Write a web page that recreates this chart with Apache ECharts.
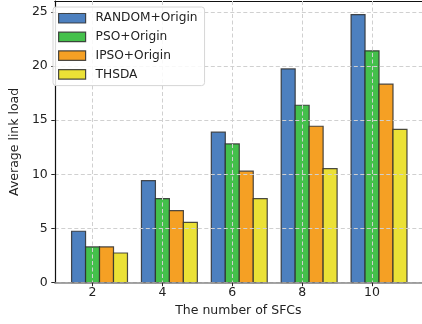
<!DOCTYPE html>
<html><head><meta charset="utf-8">
<script src="https://cdn.jsdelivr.net/npm/echarts@6/dist/echarts.min.js"></script>
<style>html,body{margin:0;padding:0;background:#fff}#c{width:422px;height:324px}</style>
</head><body><div id="c"></div>
<script>
var sfcs = [2, 4, 6, 8, 10];
var seriesNames = ['RANDOM+Origin', 'PSO+Origin', 'IPSO+Origin', 'THSDA'];
var randomOrigin = [4.75, 9.42, 13.89, 19.73, 24.75];
var psoOrigin = [3.30, 7.76, 12.81, 16.38, 21.40];
var ipsoOrigin = [3.30, 6.65, 10.29, 14.44, 18.32];
var thsda = [2.74, 5.57, 7.76, 10.53, 14.16];
var yTicks = [0, 5, 10, 15, 20, 25];

var colors = ['#4d80bf', '#44c04b', '#f5a024', '#ebe136'];
var edge = 'rgba(45,45,45,0.85)';
var BAR_W = 0.4;
var FONT = 'DejaVu Sans';

function makeRender(k, color) {
  return function (params, api) {
    var x = api.value(0), y = api.value(1);
    var w = api.size([BAR_W, 0])[0];
    var top = api.coord([x + (k - 1) * BAR_W, y]);
    var base = api.coord([x + (k - 1) * BAR_W, 0]);
    return {
      type: 'rect',
      shape: { x: top[0] - w / 2, y: top[1], width: w, height: base[1] - top[1] },
      style: { fill: color, stroke: edge, lineWidth: 1.2 }
    };
  };
}
var all = [randomOrigin, psoOrigin, ipsoOrigin, thsda];
var series = all.map(function (vals, k) {
  return {
    type: 'custom',
    name: seriesNames[k],
    renderItem: makeRender(k, colors[k]),
    itemStyle: { color: colors[k] },
    encode: { x: 0, y: 1 },
    data: sfcs.map(function (s, i) { return [s, vals[i]]; }),
    z: 2
  };
});

var chart = echarts.init(document.getElementById('c'), null, { renderer: 'canvas' });
chart.setOption({
  animation: false,
  backgroundColor: '#fff',
  textStyle: { fontFamily: FONT },
  grid: { left: 47.5, right: 0, top: 1, bottom: 41.3 },
  legend: {
    orient: 'vertical', left: 53, top: 7,
    padding: [4, 7, 4, 5],
    itemWidth: 27, itemHeight: 9.5, itemGap: 4.2,
    backgroundColor: 'rgba(255,255,255,0.85)',
    borderColor: '#d6d6d6', borderWidth: 1, borderRadius: 3,
    textStyle: { fontFamily: FONT, fontSize: 12.2, color: '#222', lineHeight: 14.5, padding: [0, 0, 0, 5] },
    data: seriesNames.map(function (n, k) {
      return { name: n, icon: 'rect', itemStyle: { color: colors[k], borderColor: edge, borderWidth: 1.2 } };
    }),
    z: 5
  },
  xAxis: [{
    type: 'value', min: 0.92, max: 11.43, z: 3,
    name: 'The number of SFCs', nameLocation: 'middle', nameGap: 21,
    nameTextStyle: { fontFamily: FONT, fontSize: 12.5, color: '#222' },
    axisLine: { show: true, onZero: false, lineStyle: { color: '#888', width: 1.5 } },
    axisTick: { show: true, length: 3.5, customValues: sfcs, lineStyle: { color: '#222', width: 1 } },
    axisLabel: { customValues: sfcs, margin: 4, fontFamily: FONT, fontSize: 12.5, color: '#222' },
    splitLine: { show: true, lineStyle: { color: '#d0d0d0', type: [4, 2.5], width: 1 } }
  }, {
    type: 'value', position: 'top', min: 0.92, max: 11.43,
    axisLine: { show: true, onZero: false, lineStyle: { color: '#111', width: 1.2 } },
    axisTick: { show: false }, axisLabel: { show: false }, splitLine: { show: false }
  }],
  yAxis: {
    type: 'value', min: 0, max: 26, interval: 5, z: 3,
    name: 'Average link load', nameLocation: 'middle', nameGap: 27, nameRotate: 90,
    nameTextStyle: { fontFamily: FONT, fontSize: 12.5, color: '#222' },
    axisLine: { show: true, lineStyle: { color: '#111', width: 1.2 } },
    axisTick: { show: true, length: 3.5, customValues: yTicks, lineStyle: { color: '#222', width: 1 } },
    axisLabel: { customValues: yTicks, margin: 7, fontFamily: FONT, fontSize: 12.5, color: '#222' },
    splitLine: { show: true, lineStyle: { color: '#d0d0d0', type: [4, 2.5], width: 1 } }
  },
  series: series
});
</script></body></html>
